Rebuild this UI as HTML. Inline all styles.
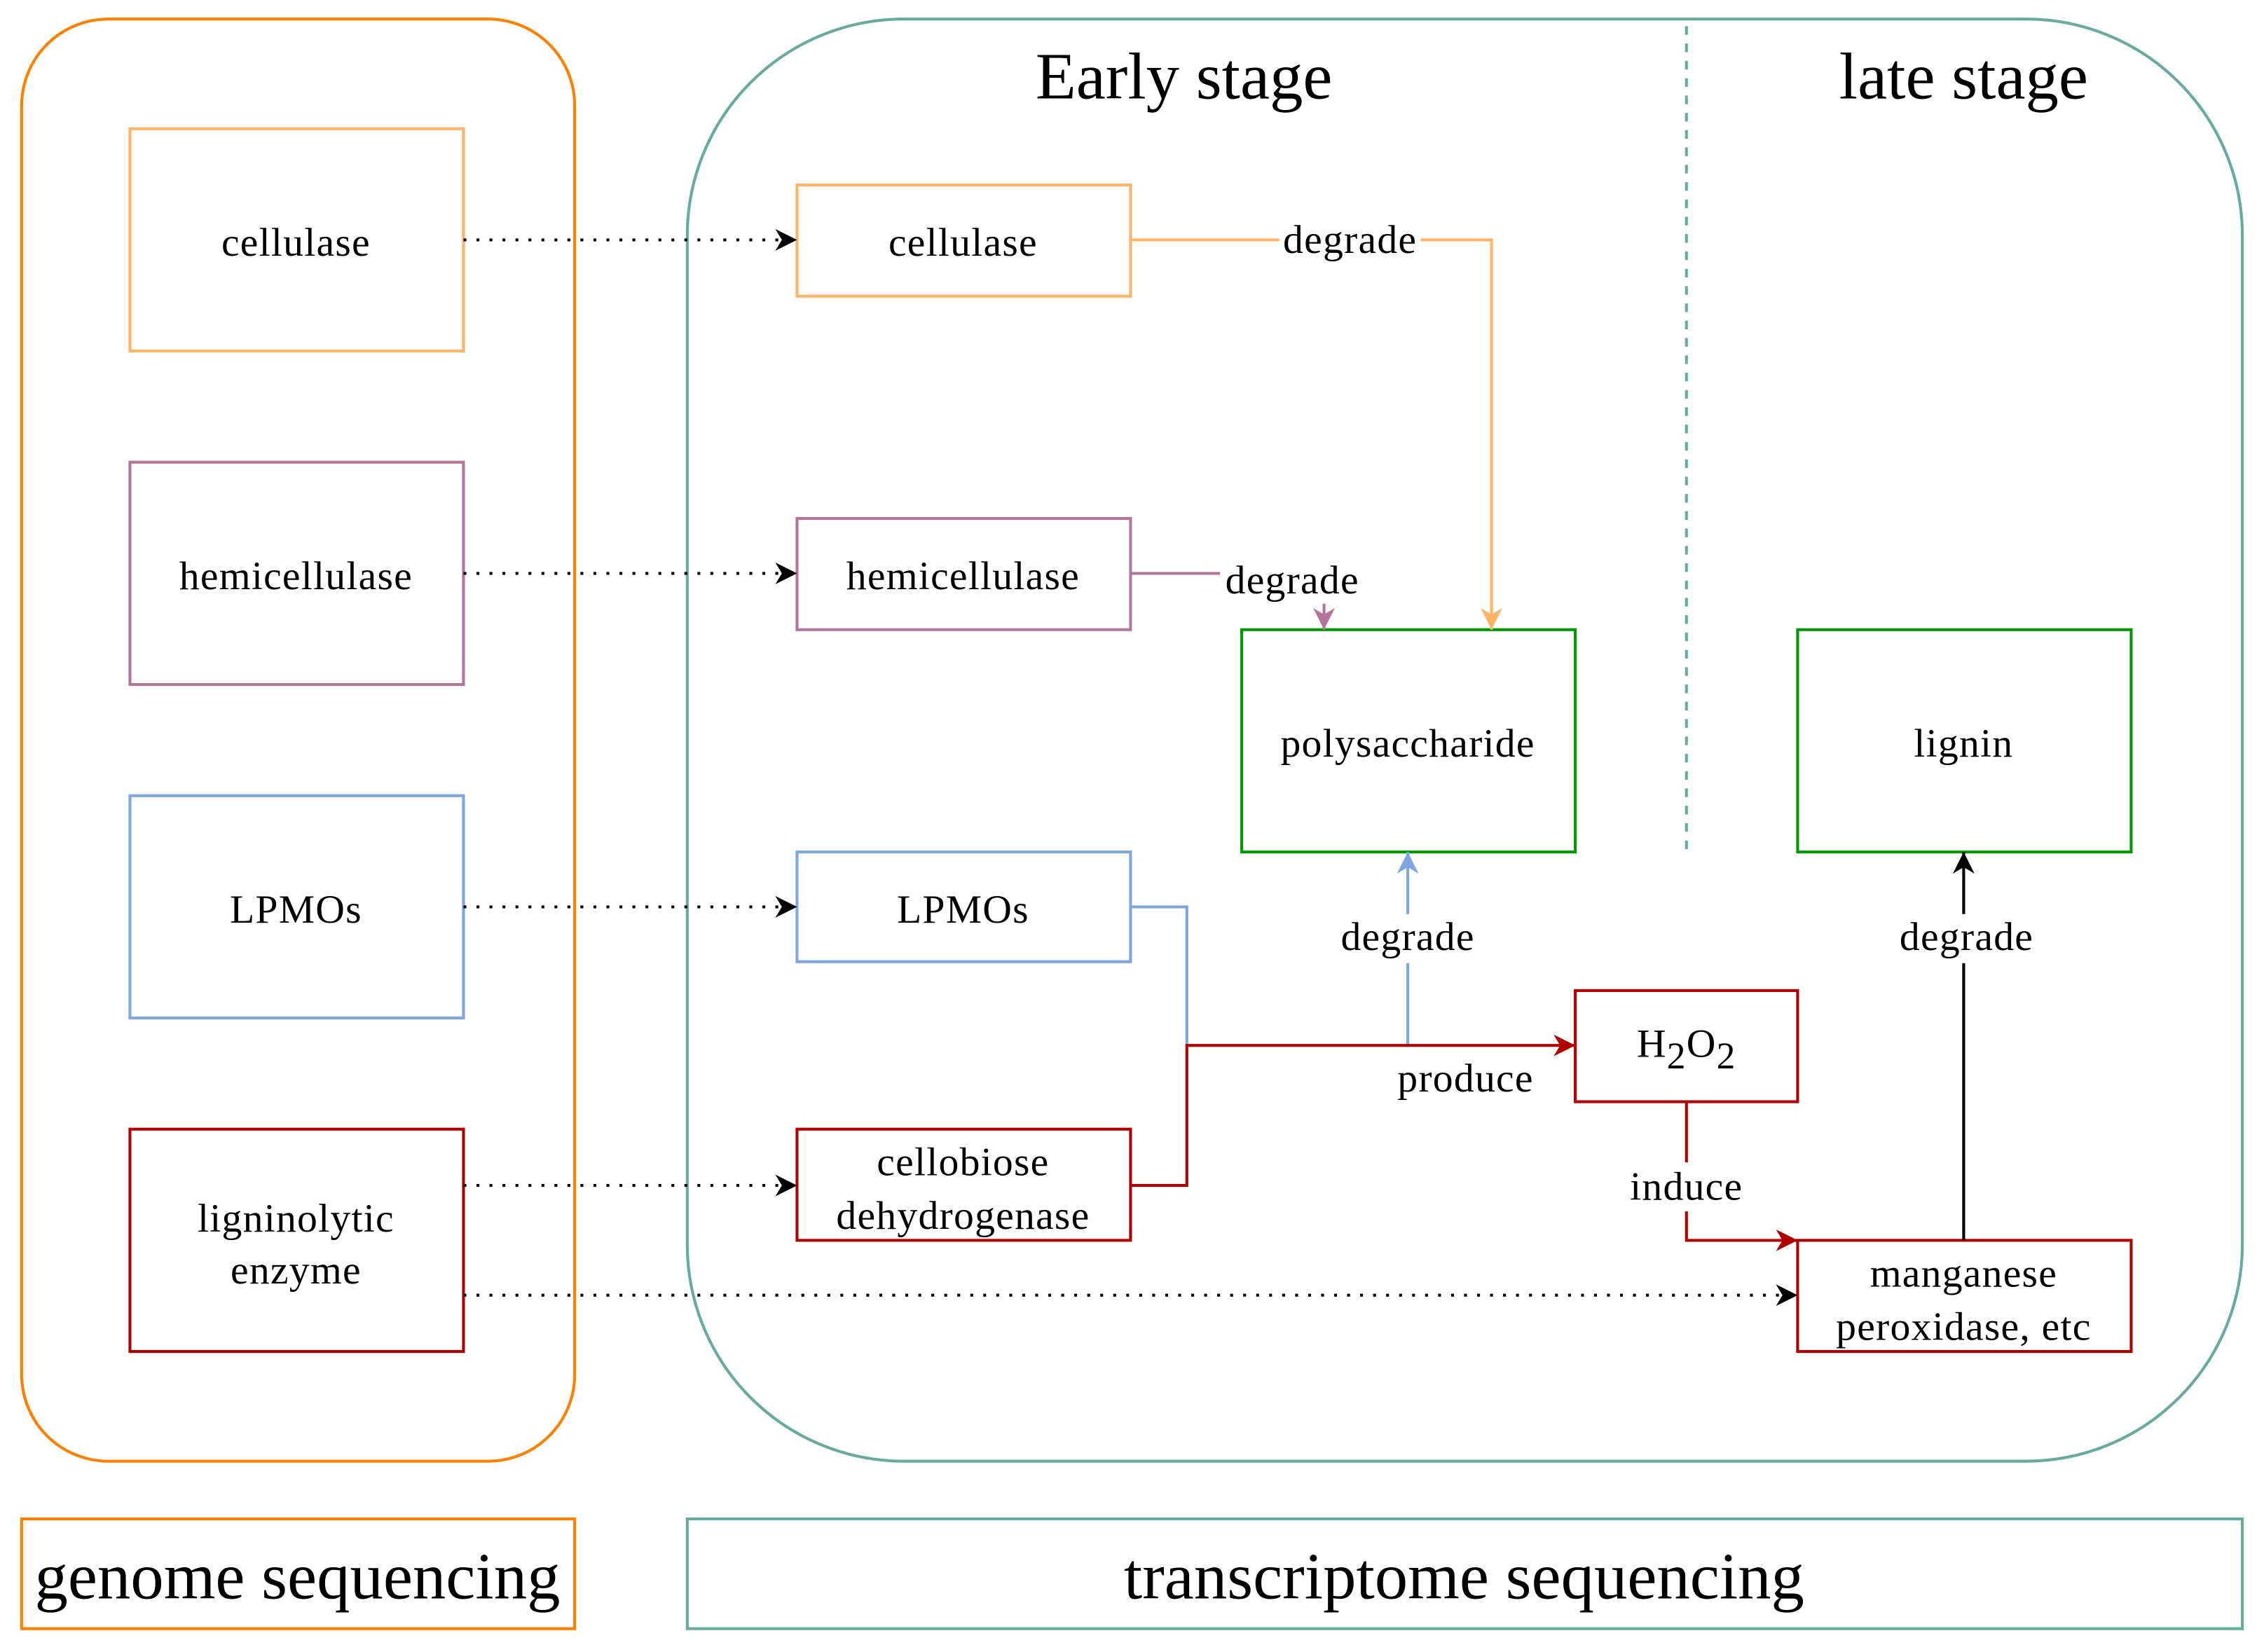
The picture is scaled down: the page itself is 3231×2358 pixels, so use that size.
<!DOCTYPE html>
<html><head><meta charset="utf-8"><style>html,body{margin:0;padding:0;background:#fff}svg{display:block}</style></head><body>
<svg width="3231" height="2358" viewBox="0 0 1568 1144" xmlns="http://www.w3.org/2000/svg" font-family="'Liberation Serif', serif" text-anchor="middle">
<defs>
<marker id="ak" viewBox="0 0 10 10" refX="10" refY="5" markerWidth="15" markerHeight="15" markerUnits="userSpaceOnUse" orient="auto"><path d="M0,0 L10,5 L0,10 L3,5 Z" fill="#000"/></marker>
<marker id="ao" viewBox="0 0 10 10" refX="10" refY="5" markerWidth="15" markerHeight="15" markerUnits="userSpaceOnUse" orient="auto"><path d="M0,0 L10,5 L0,10 L3,5 Z" fill="#FFB366"/></marker>
<marker id="ap" viewBox="0 0 10 10" refX="10" refY="5" markerWidth="15" markerHeight="15" markerUnits="userSpaceOnUse" orient="auto"><path d="M0,0 L10,5 L0,10 L3,5 Z" fill="#B5739D"/></marker>
<marker id="ab" viewBox="0 0 10 10" refX="10" refY="5" markerWidth="15" markerHeight="15" markerUnits="userSpaceOnUse" orient="auto"><path d="M0,0 L10,5 L0,10 L3,5 Z" fill="#7EA6E0"/></marker>
<marker id="ar" viewBox="0 0 10 10" refX="10" refY="5" markerWidth="15" markerHeight="15" markerUnits="userSpaceOnUse" orient="auto"><path d="M0,0 L10,5 L0,10 L3,5 Z" fill="#B20000"/></marker>
</defs>
<g fill="none" stroke-width="2">
<rect x="15" y="13" width="383" height="999" rx="60" stroke="#FF8000"/>
<rect x="476" y="13" width="1077" height="999" rx="150" stroke="#67AB9F"/>
<line x1="1168" y1="18" x2="1168" y2="590" stroke="#67AB9F" stroke-dasharray="6,6"/>
<rect x="90" y="89" width="231" height="154" stroke="#FFB366"/>
<rect x="90" y="320" width="231" height="154" stroke="#B5739D"/>
<rect x="90" y="551" width="231" height="154" stroke="#7EA6E0"/>
<rect x="90" y="782" width="231" height="154" stroke="#B20000"/>
<rect x="552" y="128" width="231" height="77" stroke="#FFB366"/>
<rect x="552" y="359" width="231" height="77" stroke="#B5739D"/>
<rect x="552" y="590" width="231" height="76" stroke="#7EA6E0"/>
<rect x="552" y="782" width="231" height="77" stroke="#B20000"/>
<rect x="860" y="436" width="231" height="154" stroke="#009900"/>
<rect x="1245" y="436" width="231" height="154" stroke="#009900"/>
<rect x="1091" y="686" width="154" height="77" stroke="#B20000"/>
<rect x="1245" y="859" width="231" height="77" stroke="#B20000"/>
<rect x="15" y="1052" width="383" height="76" stroke="#FF8000"/>
<rect x="476" y="1052" width="1077" height="76" stroke="#67AB9F"/>
<g stroke="#000" stroke-dasharray="2,7">
<line x1="321" y1="166" x2="552" y2="166" marker-end="url(#ak)"/>
<line x1="321" y1="397" x2="552" y2="397" marker-end="url(#ak)"/>
<line x1="321" y1="628" x2="552" y2="628" marker-end="url(#ak)"/>
<line x1="321" y1="821" x2="552" y2="821" marker-end="url(#ak)"/>
<line x1="321" y1="897" x2="1245" y2="897" marker-end="url(#ak)"/>
</g>
<path d="M783,166 H1033 V436" stroke="#FFB366" marker-end="url(#ao)"/>
<path d="M783,397 H917 V436" stroke="#B5739D" marker-end="url(#ap)"/>
<path d="M783,628 H822 V724 H975 V590" stroke="#7EA6E0" marker-end="url(#ab)"/>
<path d="M783,821 H822 V724 H1091" stroke="#B20000" marker-end="url(#ar)"/>
<path d="M1168,763 V859 H1245" stroke="#B20000" marker-end="url(#ar)"/>
<path d="M1360,859 V590" stroke="#000" marker-end="url(#ak)"/>
</g>
<g fill="#fff">
<rect x="886" y="150" width="98" height="30"/>
<rect x="845" y="386" width="100" height="32"/>
<rect x="924" y="633" width="102" height="34"/>
<rect x="1311" y="633" width="102" height="34"/>
<rect x="1124" y="805" width="88" height="34"/>
</g>
<g font-size="28" fill="#000" letter-spacing="0.6">
<text x="205" y="177">cellulase</text>
<text x="205" y="408">hemicellulase</text>
<text x="205" y="639">LPMOs</text>
<text x="205" y="853">ligninolytic</text>
<text x="205" y="889">enzyme</text>
<text x="667" y="177">cellulase</text>
<text x="667" y="408">hemicellulase</text>
<text x="667" y="639">LPMOs</text>
<text x="667" y="814">cellobiose</text>
<text x="667" y="851">dehydrogenase</text>
<text x="975" y="524">polysaccharide</text>
<text x="1360" y="524">lignin</text>
<text x="1168" y="732">H<tspan font-size="26" dy="8">2</tspan><tspan dy="-8">O</tspan><tspan font-size="26" dy="8">2</tspan></text>
<text x="1360" y="891">manganese</text>
<text x="1360" y="928">peroxidase, etc</text>
<text x="935" y="175">degrade</text>
<text x="895" y="411">degrade</text>
<text x="975" y="658">degrade</text>
<text x="1362" y="658">degrade</text>
<text x="1015" y="756">produce</text>
<text x="1168" y="831">induce</text>
</g>
<g font-size="46" fill="#000">
<text x="820" y="68">Early stage</text>
<text x="1360" y="68">late stage</text>
<text x="206" y="1107">genome sequencing</text>
<text x="1014" y="1107">transcriptome sequencing</text>
</g>
</svg>
</body></html>
